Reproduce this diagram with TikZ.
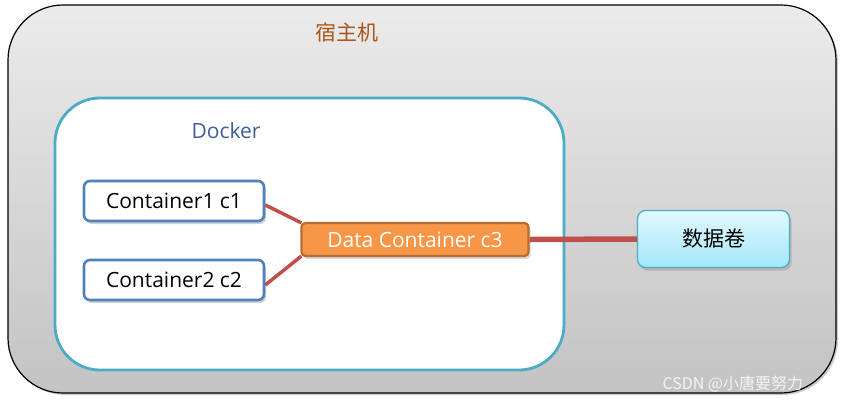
\documentclass[tikz,border=0pt]{standalone}
\usepackage{fontspec}
\setmainfont{Open Sans}
\newfontfamily\cjk{Noto Sans CJK SC}
\usetikzlibrary{shadows}
\definecolor{hostTop}{HTML}{EBEBEB}
\definecolor{hostBot}{HTML}{C3C3C3}
\definecolor{dockerLine}{HTML}{4BACC6}
\definecolor{contLine}{HTML}{4F81BD}
\definecolor{dataFill}{HTML}{F79646}
\definecolor{dataLine}{HTML}{B66D31}
\definecolor{linkRed}{HTML}{C0504D}
\definecolor{volTop}{HTML}{E2F9FE}
\definecolor{volBot}{HTML}{A3E7F8}
\definecolor{hostText}{HTML}{A8561A}
\definecolor{dockerText}{HTML}{3F5F99}
\tikzset{
  contbox/.style={draw=contLine, line width=2.6pt, fill=white, rounded corners=6pt,
    minimum width=180pt, minimum height=40pt, inner sep=0pt, font=\fontsize{21}{24}\selectfont,
    drop shadow={opacity=0.35, shadow xshift=2pt, shadow yshift=-3pt}},
  link/.style={draw=linkRed, line width=3.5pt},
}
\begin{document}
\begin{tikzpicture}[x=1pt,y=-1pt]
\useasboundingbox (0,0) rectangle (843,405);
% host
\node[draw=black, line width=1.2pt, rounded corners=55pt, top color=hostTop, bottom color=hostBot,
  minimum width=828pt, minimum height=388pt, inner sep=0pt,
  drop shadow={opacity=0.4, shadow xshift=2pt, shadow yshift=-2pt}] (host) at (422,199) {};
\node[text=hostText, font=\cjk\fontsize{21}{24}\selectfont] (hostlbl) at (347,32) {宿主机};
% docker
\node[draw=dockerLine, line width=2.8pt, fill=white, rounded corners=45pt,
  minimum width=509pt, minimum height=272pt, inner sep=0pt] (docker) at (309.5,234) {};
\node[text=dockerText, font=\fontsize{21}{24}\selectfont] (dockerlbl) at (226,131) {Docker};
% containers
\node[contbox] (c1) at (174,201) {Container1 c1};
\node[contbox] (c2) at (174,280) {Container2 c2};
\node[draw=dataLine, line width=2.2pt, fill=dataFill, rounded corners=4pt, text=white,
  minimum width=227pt, minimum height=33pt, inner sep=0pt, font=\fontsize{21}{24}\selectfont,
  drop shadow={opacity=0.3, shadow xshift=2pt, shadow yshift=-3pt}] (c3) at (415,239.5) {Data Container c3};
% volume
\node[draw=dockerLine, line width=1.3pt, top color=volTop, bottom color=volBot, rounded corners=8pt,
  minimum width=152pt, minimum height=57pt, inner sep=0pt, font=\cjk\fontsize{21}{24}\selectfont,
  drop shadow={opacity=0.35, shadow xshift=2pt, shadow yshift=-3pt}] (vol) at (713.5,239) {数据卷};
% links
\draw[link] ([yshift=-4pt]c1.east) -- ([xshift=1pt,yshift=-1pt]c3.north west);
\draw[link] ([yshift=-5pt]c2.east) -- ([xshift=1pt,yshift=1pt]c3.south west);
\draw[link, line width=5.5pt] (c3.east) -- (vol.west);
\node[text=white, opacity=0.8, font=\cjk\fontsize{16}{18}\selectfont, anchor=west] (wm) at (659,384) {CSDN @小唐要努力};
\end{tikzpicture}
\end{document}
